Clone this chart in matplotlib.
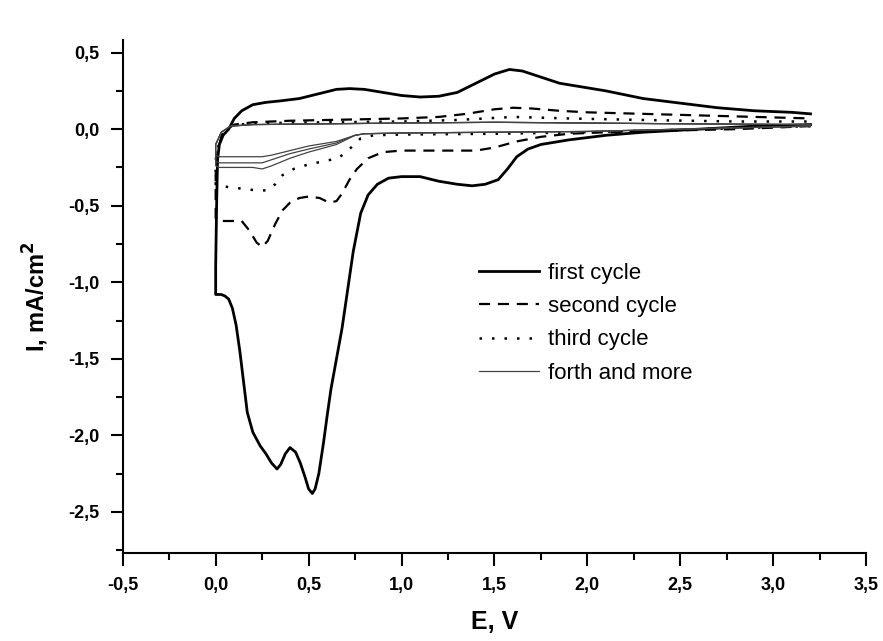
import numpy as np
import matplotlib.pyplot as plt
from matplotlib.ticker import FixedLocator, MultipleLocator

plt.rcParams['font.family'] = ['Liberation Sans', 'DejaVu Sans']

# first cycle: cathodic sweep 3.2 V -> 0 V, then anodic sweep back to 3.2 V
c1_cath_E = [3.2, 2.9, 2.6, 2.3, 2.1, 1.9, 1.75, 1.68, 1.62, 1.57, 1.52, 1.45, 1.38, 1.3,
             1.2, 1.1, 1.0, 0.93, 0.87, 0.82, 0.78, 0.74, 0.71, 0.68, 0.65, 0.62, 0.6, 0.58,
             0.555, 0.535, 0.52, 0.5, 0.48, 0.455, 0.43, 0.40, 0.375, 0.35, 0.33, 0.30, 0.27,
             0.24, 0.2, 0.17, 0.15, 0.13, 0.11, 0.09, 0.07, 0.05, 0.03, 0.01, 0.0]
c1_cath_I = [0.03, 0.02, 0.0, -0.02, -0.04, -0.07, -0.1, -0.13, -0.18, -0.26, -0.33, -0.36,
             -0.37, -0.36, -0.34, -0.31, -0.31, -0.32, -0.36, -0.43, -0.55, -0.8, -1.05, -1.3,
             -1.5, -1.7, -1.87, -2.05, -2.25, -2.35, -2.38, -2.35, -2.27, -2.18, -2.11, -2.08,
             -2.12, -2.19, -2.22, -2.18, -2.12, -2.07, -1.98, -1.85, -1.65, -1.45, -1.28, -1.17,
             -1.11, -1.09, -1.08, -1.08, -1.08]
c1_anod_E = [0.0, 0.005, 0.01, 0.02, 0.04, 0.07, 0.1, 0.14, 0.2, 0.27, 0.35, 0.45, 0.55, 0.65,
             0.72, 0.8, 0.9, 1.0, 1.1, 1.2, 1.3, 1.4, 1.5, 1.58, 1.65, 1.75, 1.85, 1.95, 2.1,
             2.3, 2.5, 2.7, 2.9, 3.1, 3.2]
c1_anod_I = [-0.9, -0.5, -0.2, -0.1, -0.04, 0.0, 0.07, 0.12, 0.16, 0.175, 0.185, 0.2, 0.23,
             0.26, 0.265, 0.26, 0.24, 0.22, 0.21, 0.215, 0.24, 0.3, 0.36, 0.39, 0.38, 0.34,
             0.3, 0.28, 0.25, 0.2, 0.17, 0.14, 0.12, 0.11, 0.1]

# second cycle
c2_cath_E = [3.2, 2.8, 2.4, 2.1, 1.9, 1.75, 1.62, 1.5, 1.4, 1.2, 1.0, 0.9, 0.82, 0.76, 0.72,
             0.68, 0.65, 0.61, 0.56, 0.5, 0.45, 0.4, 0.36, 0.32, 0.28, 0.25, 0.22, 0.18, 0.14,
             0.1, 0.05, 0.01, 0.0]
c2_cath_I = [0.02, 0.0, -0.01, -0.02, -0.03, -0.05, -0.08, -0.12, -0.14, -0.14, -0.14, -0.15,
             -0.19, -0.26, -0.33, -0.42, -0.47, -0.48, -0.45, -0.44, -0.45, -0.48, -0.53,
             -0.62, -0.73, -0.77, -0.74, -0.66, -0.6, -0.6, -0.6, -0.6, -0.58]
c2_anod_E = [0.0, 0.01, 0.03, 0.06, 0.1, 0.2, 0.4, 0.6, 0.8, 1.0, 1.2, 1.35, 1.5, 1.6, 1.7,
             1.85, 2.0, 2.3, 2.6, 2.9, 3.2]
c2_anod_I = [-0.3, -0.15, -0.05, 0.0, 0.03, 0.045, 0.055, 0.06, 0.065, 0.07, 0.08, 0.1, 0.13,
             0.14, 0.135, 0.12, 0.11, 0.1, 0.09, 0.08, 0.07]

# third cycle
c3_cath_E = [3.2, 2.6, 2.0, 1.5, 1.0, 0.85, 0.78, 0.72, 0.66, 0.58, 0.5, 0.42, 0.36, 0.32,
             0.28, 0.22, 0.15, 0.08, 0.02, 0.0]
c3_cath_I = [0.02, 0.0, -0.02, -0.03, -0.035, -0.04, -0.06, -0.13, -0.19, -0.21, -0.23,
             -0.26, -0.3, -0.36, -0.4, -0.4, -0.39, -0.38, -0.37, -0.36]
c3_anod_E = [0.0, 0.02, 0.05, 0.1, 0.3, 0.6, 1.0, 1.3, 1.6, 1.9, 2.3, 2.8, 3.2]
c3_anod_I = [-0.2, -0.08, 0.0, 0.03, 0.04, 0.045, 0.05, 0.06, 0.08, 0.07, 0.06, 0.05, 0.05]

# fourth, fifth and sixth cycles (nearly overlapping)
cN_cath_E = [3.2, 2.5, 2.0, 1.5, 1.0, 0.8, 0.75, 0.65, 0.5, 0.4, 0.3, 0.25, 0.2, 0.1, 0.02, 0.0]
c4_cath_I = [0.02, 0.0, -0.015, -0.02, -0.025, -0.03, -0.04, -0.1, -0.15, -0.19, -0.24,
             -0.26, -0.25, -0.25, -0.25, -0.24]
c5_cath_I = [0.02, 0.0, -0.015, -0.02, -0.025, -0.03, -0.04, -0.09, -0.13, -0.16, -0.2,
             -0.22, -0.22, -0.22, -0.22, -0.21]
c6_cath_I = [0.02, 0.0, -0.015, -0.02, -0.025, -0.03, -0.04, -0.08, -0.11, -0.14, -0.17,
             -0.18, -0.18, -0.18, -0.18, -0.17]
cN_anod_E = [0.0, 0.03, 0.08, 0.2, 0.6, 1.0, 1.5, 2.0, 2.5, 3.2]
cN_anod_I = [-0.1, -0.02, 0.02, 0.03, 0.035, 0.04, 0.045, 0.04, 0.035, 0.03]

x_ticks = [-0.5, 0.0, 0.5, 1.0, 1.5, 2.0, 2.5, 3.0, 3.5]
y_ticks = [-2.5, -2.0, -1.5, -1.0, -0.5, 0.0, 0.5]

fig = plt.figure(figsize=(8.83, 6.41), dpi=100)
ax = fig.add_axes([0.139, 0.137, 0.842, 0.80])

ax.plot(c1_cath_E + c1_anod_E, c1_cath_I + c1_anod_I, color='black', lw=2.0,
        label='first cycle')
ax.plot(c2_cath_E + c2_anod_E, c2_cath_I + c2_anod_I, color='black', lw=1.6,
        dashes=(5, 3.5), label='second cycle')
ax.plot(c3_cath_E + c3_anod_E, c3_cath_I + c3_anod_I, color='black', lw=1.8,
        dashes=(1, 4), label='third cycle')
for k, cath in enumerate([c4_cath_I, c5_cath_I, c6_cath_I]):
    ax.plot(cN_cath_E + cN_anod_E, cath + cN_anod_I, color='#444444', lw=0.9,
            label='forth and more' if k == 0 else None)

ax.set_xlim(-0.5, 3.5)
ax.set_ylim(-2.77, 0.58)

for s in ['top', 'right']:
    ax.spines[s].set_visible(False)
for s in ['left', 'bottom']:
    ax.spines[s].set_linewidth(1.5)

ax.xaxis.set_major_locator(FixedLocator(x_ticks))
ax.yaxis.set_major_locator(FixedLocator(y_ticks))
ax.xaxis.set_minor_locator(MultipleLocator(0.25))
ax.yaxis.set_minor_locator(MultipleLocator(0.25))
ax.set_xticklabels([f'{v:.1f}'.replace('.', ',') for v in x_ticks])
ax.set_yticklabels([f'{v:.1f}'.replace('.', ',') for v in y_ticks])
ax.tick_params(which='major', length=9, width=1.5, direction='out', pad=8)
ax.tick_params(which='minor', length=5, width=1.5, direction='out')
for lab in ax.get_xticklabels() + ax.get_yticklabels():
    lab.set_fontweight('bold')
    lab.set_fontsize(13)

ax.set_xlabel('E, V', fontsize=18, fontweight='bold', labelpad=12)
ax.set_ylabel('I, mA/cm$^\\mathbf{2}$', fontsize=17, fontweight='bold', labelpad=12)

ax.legend(loc='upper left', bbox_to_anchor=(0.452, 0.605), frameon=False, fontsize=16,
          handlelength=2.7, handletextpad=0.4, labelspacing=0.55)

fig.savefig('out.png', dpi=100)
